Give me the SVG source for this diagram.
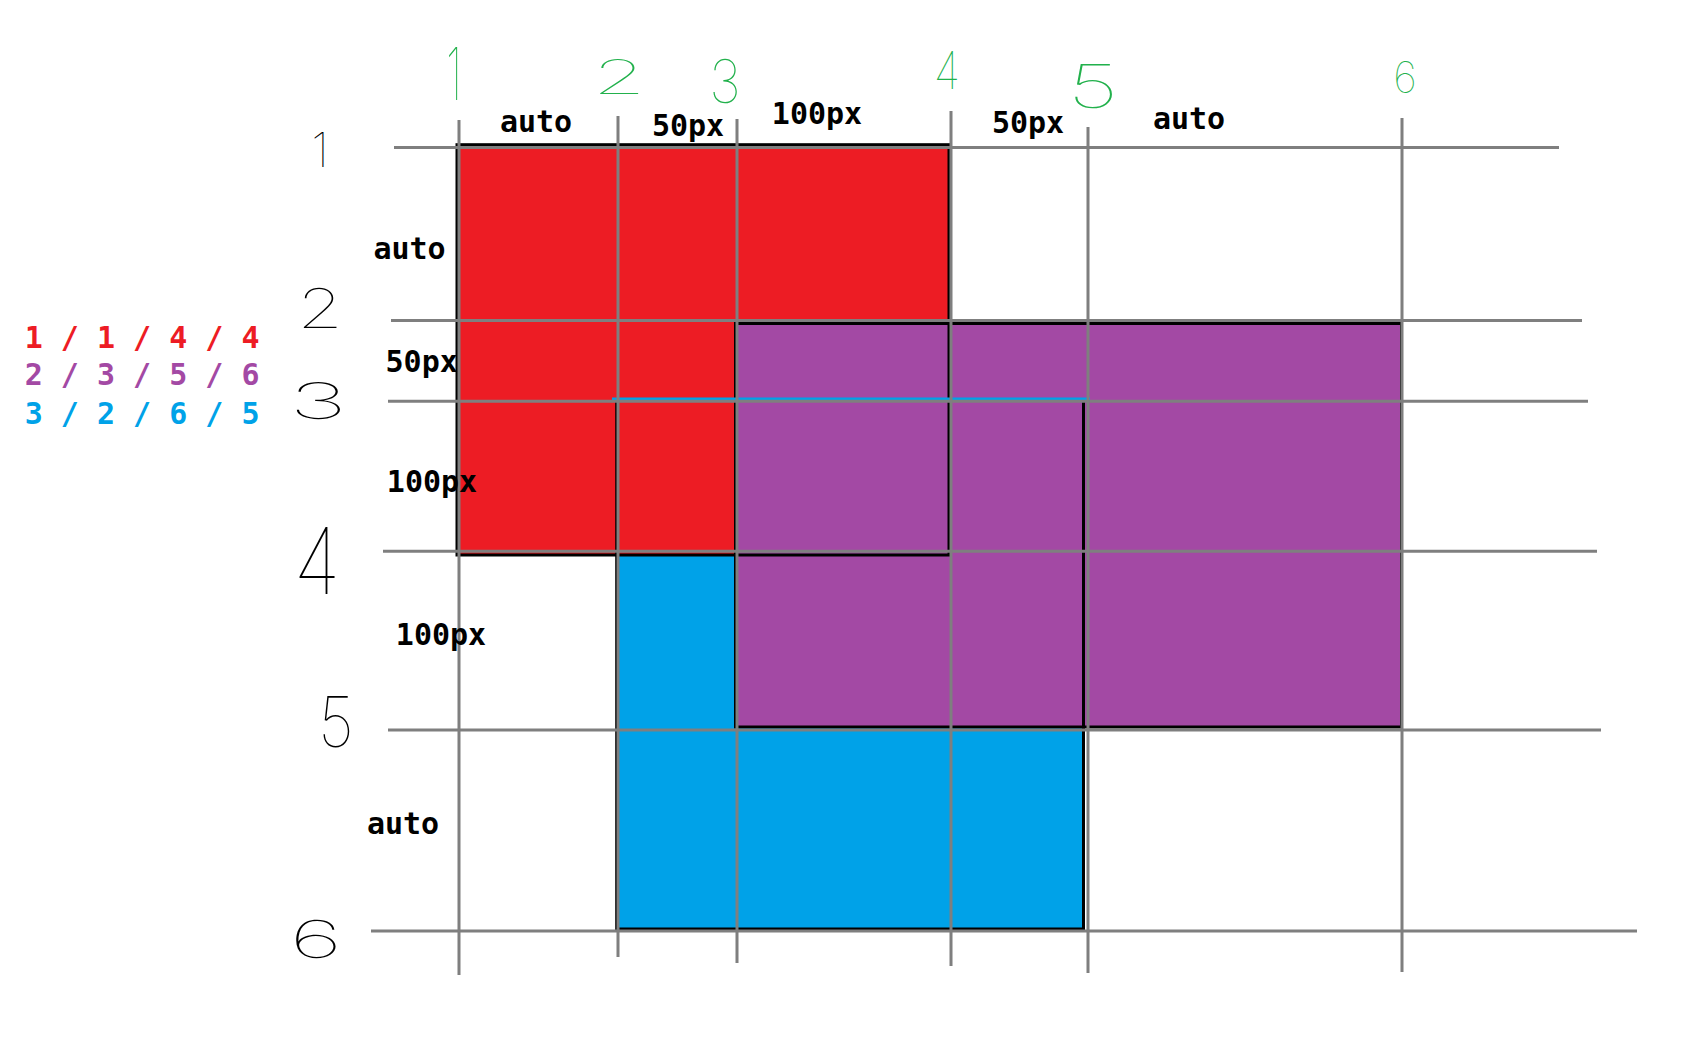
<svg xmlns="http://www.w3.org/2000/svg" width="1690" height="1057" viewBox="0 0 1690 1057">
<style>
.lbl{font-family:"DejaVu Sans Mono","Liberation Mono",monospace;font-size:30px;font-weight:bold;fill:#000;text-anchor:middle}
.leg{font-family:"DejaVu Sans Mono","Liberation Mono",monospace;font-size:30px;font-weight:bold}
.hand{font-family:Inter,"DejaVu Sans",sans-serif;font-weight:100;text-anchor:middle}
.gr{fill:#22B14C}
.bk{fill:#000}
.grid line{stroke:#7f7f7f;stroke-width:3}
.edge{fill:none;stroke:#000;stroke-width:3}
</style>
<rect width="1690" height="1057" fill="#fff"/>

<g id="area-fills">
  <rect id="blue-area" x="617" y="399" width="468" height="531" fill="#00A2E8"/>
  <rect id="red-area" x="457" y="145" width="493" height="410" fill="#ED1C24"/>
  <rect id="purple-area" x="736" y="323" width="666" height="404" fill="#A349A4"/>
</g>

<g id="area-edges">
  <rect class="edge" x="735.5" y="323.5" width="666" height="403.5"/>
  <rect class="edge" x="457" y="144.7" width="492" height="410.3"/>
  <path class="edge" d="M616.7 400 V929 H1083.5 V400"/>
  <line x1="612" y1="399" x2="1090" y2="399" stroke="#00A2E8" stroke-width="3"/>
</g>

<g id="grid" class="grid">
  <line x1="394" y1="147.4" x2="1559" y2="147.4"/>
  <line x1="391" y1="320.4" x2="1582" y2="320.4"/>
  <line x1="388" y1="401.2" x2="1588" y2="401.2"/>
  <line x1="383" y1="551.3" x2="1597" y2="551.3"/>
  <line x1="388" y1="730" x2="1601" y2="730"/>
  <line x1="371" y1="931" x2="1637" y2="931"/>
  <line x1="459" y1="120" x2="459" y2="975"/>
  <line x1="618" y1="116" x2="618" y2="957"/>
  <line x1="737" y1="119" x2="737" y2="963"/>
  <line x1="951" y1="111" x2="951" y2="966"/>
  <line x1="1088" y1="127" x2="1088" y2="973"/>
  <line x1="1402" y1="118" x2="1402" y2="972"/>
</g>

<g id="column-sizes">
  <text class="lbl" x="536" y="132">auto</text>
  <text class="lbl" x="688" y="135.5">50px</text>
  <text class="lbl" x="817" y="124">100px</text>
  <text class="lbl" x="1028" y="132.5">50px</text>
  <text class="lbl" x="1189" y="128.5">auto</text>
</g>

<g id="row-sizes">
  <text class="lbl" x="409.5" y="258.5">auto</text>
  <text class="lbl" x="421.7" y="372.3">50px</text>
  <text class="lbl" x="432" y="491.7">100px</text>
  <text class="lbl" x="441" y="645.3">100px</text>
  <text class="lbl" x="403" y="834">auto</text>
</g>

<g id="legend">
  <text class="leg" x="24.7" y="348.3" fill="#ED1C24">1 / 1 / 4 / 4</text>
  <text class="leg" x="24.7" y="385.4" fill="#A349A4">2 / 3 / 5 / 6</text>
  <text class="leg" x="24.7" y="423.5" fill="#00A2E8">3 / 2 / 6 / 5</text>
</g>

<g id="column-line-numbers">
  <text class="hand gr" font-size="73" transform="translate(454 100) scale(0.6 1)">1</text>
  <text class="hand gr" font-size="48" transform="translate(619 94) scale(1.8 1)">2</text>
  <text class="hand gr" font-size="60" transform="translate(725 103) scale(0.9 1)">3</text>
  <text class="hand gr" font-size="52" transform="translate(947 89) scale(0.85 1)">4</text>
  <text class="hand gr" font-size="60" transform="translate(1093 108) scale(1.5 1)">5</text>
  <text class="hand gr" font-size="44" transform="translate(1405 93) scale(0.95 1)">6</text>
</g>

<g id="row-line-numbers">
  <text class="hand bk" font-size="48" transform="translate(320 167)">1</text>
  <text class="hand bk" font-size="55" transform="translate(320 328) scale(1.35 1)">2</text>
  <text class="hand bk" font-size="50" transform="translate(318 419) scale(2 1)">3</text>
  <text class="hand bk" font-size="92" transform="translate(317 594) scale(0.85 1)">4</text>
  <text class="hand bk" font-size="70" transform="translate(336 747) scale(0.9 1)">5</text>
  <text class="hand bk" font-size="52" transform="translate(316 958) scale(1.8 1)">6</text>
</g>
</svg>
